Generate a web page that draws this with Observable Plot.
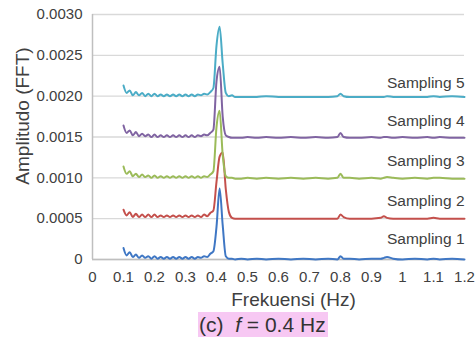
<!DOCTYPE html>
<html>
<head>
<meta charset="utf-8">
<script src="https://cdn.jsdelivr.net/npm/d3@7"></script>
<script src="https://cdn.jsdelivr.net/npm/@observablehq/plot@0.6"></script>
<style>
  html, body { margin: 0; padding: 0; background: #ffffff; }
  #wrap { width: 475px; height: 341px; overflow: hidden; font-family: "Liberation Sans", Arial, sans-serif; }
  #caption { margin-top: 2px; padding-left: 198px; height: 29px; }
  #caption span { display: inline-block; background: #f7c8f3; color: #333333; font-size: 21px; line-height: 25px; padding: 0 2px 0 1px; white-space: pre; }
</style>
</head>
<body>
<div id="wrap">
  <div id="chart"></div>
  <div id="caption"><span>(c)  <i>f</i> = 0.4 Hz</span></div>
</div>
<script>
const freq = [0.10,0.11,0.12,0.13,0.14,0.15,0.16,0.17,0.18,0.19,
  0.20,0.21,0.22,0.23,0.24,0.25,0.26,0.27,0.28,0.29,
  0.30,0.31,0.32,0.33,0.34,0.35,0.36,0.37,0.38,0.39,
  0.40,0.41,0.42,0.43,0.44,0.45,0.46,
  0.48,0.50,0.53,0.56,0.60,0.64,0.68,0.72,0.76,0.79,
  0.80,0.81,0.83,0.86,0.90,
  0.93,0.94,0.95,0.97,1.00,
  1.04,1.08,1.10,1.12,1.16,1.20];

const sampling1 = [0.00014,0.00005,0.00009,0.00003,0.00006,0.00002,0.00005,0.00002,0.00004,0.00001,
  0.00004,0.00001,0.00003,0.00001,0.00003,0.00001,0.00003,0.00001,0.00003,0.00001,
  0.00003,0.00001,0.00003,0.00001,0.00003,0.00002,0.00004,0.00003,0.00007,0.00010,
  0.00040,0.00087,0.00042,0.00004,0.00001,0.00001,0.00000,
  0.00001,0.00000,0.00001,0.00000,0.00001,0.00000,0.00001,0.00000,0.00001,0.00000,
  0.00004,0.00001,0.00001,0.00000,0.00001,
  0.00001,0.00002,0.00003,0.00001,0.00000,
  0.00001,0.00000,0.00001,0.00000,0.00001,0.00000];

const sampling2 = [0.00061,0.00054,0.00058,0.00052,0.00056,0.00052,0.00055,0.00052,0.00055,0.00052,
  0.00055,0.00052,0.00054,0.00052,0.00054,0.00052,0.00054,0.00052,0.00054,0.00052,
  0.00054,0.00052,0.00054,0.00052,0.00054,0.00052,0.00055,0.00053,0.00057,0.00060,
  0.00095,0.00126,0.00131,0.00086,0.00058,0.00051,0.00050,
  0.00050,0.00050,0.00050,0.00050,0.00050,0.00050,0.00050,0.00050,0.00050,0.00050,
  0.00055,0.00052,0.00050,0.00050,0.00050,
  0.00051,0.00053,0.00051,0.00050,0.00050,
  0.00050,0.00050,0.00051,0.00050,0.00050,0.00050];

const sampling3 = [0.00114,0.00105,0.00108,0.00102,0.00105,0.00101,0.00104,0.00101,0.00103,0.00100,
  0.00103,0.00100,0.00102,0.00100,0.00102,0.00100,0.00102,0.00100,0.00102,0.00100,
  0.00102,0.00100,0.00102,0.00100,0.00102,0.00100,0.00102,0.00101,0.00104,0.00108,
  0.00162,0.00182,0.00128,0.00102,0.00100,0.00100,0.00099,
  0.00099,0.00100,0.00099,0.00100,0.00099,0.00100,0.00099,0.00100,0.00099,0.00100,
  0.00105,0.00100,0.00100,0.00099,0.00100,
  0.00099,0.00100,0.00101,0.00100,0.00099,
  0.00100,0.00099,0.00100,0.00100,0.00099,0.00099];

const sampling4 = [0.00164,0.00155,0.00158,0.00152,0.00156,0.00151,0.00154,0.00151,0.00153,0.00150,
  0.00153,0.00150,0.00152,0.00150,0.00152,0.00150,0.00152,0.00150,0.00152,0.00150,
  0.00152,0.00150,0.00152,0.00150,0.00152,0.00151,0.00153,0.00152,0.00155,0.00159,
  0.00218,0.00236,0.00175,0.00152,0.00150,0.00149,0.00149,
  0.00149,0.00150,0.00149,0.00150,0.00149,0.00150,0.00149,0.00150,0.00149,0.00150,
  0.00155,0.00150,0.00149,0.00149,0.00150,
  0.00149,0.00150,0.00150,0.00149,0.00150,
  0.00149,0.00150,0.00149,0.00150,0.00149,0.00149];

const sampling5 = [0.00213,0.00204,0.00207,0.00201,0.00205,0.00201,0.00204,0.00200,0.00203,0.00200,
  0.00203,0.00200,0.00202,0.00200,0.00202,0.00200,0.00202,0.00200,0.00202,0.00200,
  0.00202,0.00200,0.00202,0.00200,0.00202,0.00201,0.00203,0.00202,0.00205,0.00210,
  0.00262,0.00285,0.00240,0.00204,0.00200,0.00201,0.00199,
  0.00199,0.00199,0.00199,0.00200,0.00199,0.00199,0.00199,0.00199,0.00199,0.00200,
  0.00203,0.00200,0.00199,0.00199,0.00199,
  0.00199,0.00199,0.00200,0.00199,0.00199,
  0.00199,0.00199,0.00200,0.00199,0.00200,0.00199];

const seriesNames = ["Sampling 1","Sampling 2","Sampling 3","Sampling 4","Sampling 5"];
const seriesValues = [sampling1, sampling2, sampling3, sampling4, sampling5];
const seriesColors = ["#3f77c4","#c4504c","#9bbb59","#8064a2","#4bacc6"];
const labelAmp = [0.000245, 0.00072, 0.00121, 0.00169, 0.00216];

const xTicks = [0,0.1,0.2,0.3,0.4,0.5,0.6,0.7,0.8,0.9,1,1.1,1.2];
const xTickLabels = ["0","0.1","0.2","0.3","0.4","0.5","0.6","0.7","0.8","0.9","1","1.1","1.2"];
const yTicks = [0,0.0005,0.001,0.0015,0.002,0.0025,0.003];
const yTickLabels = ["0","0.0005","0.0010","0.0015","0.0020","0.0025","0.0030"];

const data = seriesNames.flatMap((s, k) => freq.map((f, i) => ({s, f, a: seriesValues[k][i]})));
const labels = seriesNames.map((s, k) => ({s, x: 1.2, y: labelAmp[k]}));

const chart = Plot.plot({
  width: 475,
  height: 310,
  marginLeft: 92,
  marginRight: 11,
  marginTop: 14,
  marginBottom: 51,
  style: {fontFamily: "'Liberation Sans', Arial, sans-serif", fontSize: "15px", color: "#404040", background: "#ffffff"},
  x: {domain: [0, 1.2]},
  y: {domain: [0, 0.003]},
  color: {domain: seriesNames, range: seriesColors},
  marks: [
    Plot.gridY(yTicks, {stroke: "#d9d9d9", strokeOpacity: 1, strokeWidth: 1.3}),
    Plot.ruleX([0], {stroke: "#bfbfbf", strokeWidth: 1.5}),
    Plot.ruleY([0], {stroke: "#bfbfbf", strokeWidth: 1.5}),
    Plot.axisX(xTicks, {tickSize: 0, tickPadding: 12, label: null, fontSize: 15, fill: "#404040",
      tickFormat: d => xTickLabels[xTicks.indexOf(d)]}),
    Plot.axisY(yTicks, {tickSize: 0, tickPadding: 10, label: null, fontSize: 15, fill: "#404040",
      tickFormat: d => yTickLabels[yTicks.indexOf(d)]}),
    Plot.line(data, {x: "f", y: "a", z: "s", stroke: "s", strokeWidth: 2, curve: "monotone-x"}),
    Plot.text(labels, {x: "x", y: "y", text: "s", textAnchor: "end", fontSize: 15.5, fill: "#404040"}),
    Plot.text(["Frekuensi (Hz)"], {frameAnchor: "bottom", textAnchor: "middle", lineAnchor: "middle", dx: 15, dy: 40, fontSize: 19, fill: "#404040"}),
    Plot.text(["Amplitudo (FFT)"], {frameAnchor: "left", textAnchor: "middle", lineAnchor: "middle", rotate: -90, dx: -70, dy: -21, fontSize: 19, fill: "#404040"})
  ]
});
document.getElementById("chart").appendChild(chart);
</script>
</body>
</html>
